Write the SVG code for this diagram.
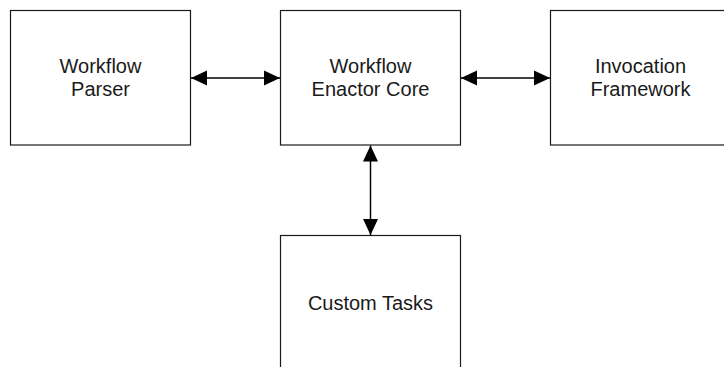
<svg xmlns="http://www.w3.org/2000/svg" width="724" height="367" viewBox="0 0 724 367">
  <style>
    .box { fill: #ffffff; stroke: #1a1a1a; stroke-width: 1.2; }
    .label { font-family: "Liberation Sans", Arial, sans-serif; font-size: 20px; fill: #1a1a1a; text-anchor: middle; }
    .link { stroke: #000000; stroke-width: 1.5; fill: none; marker-start: url(#head); marker-end: url(#head); }
  </style>
  <defs>
    <marker id="head" markerUnits="userSpaceOnUse" markerWidth="16" markerHeight="16" refX="16" refY="8" orient="auto-start-reverse">
      <path d="M0,0.5 L16,8 L0,15.5 Z" fill="#000000"/>
    </marker>
  </defs>
  <rect width="724" height="367" fill="#ffffff"/>

  <g id="workflow-parser">
    <rect class="box" x="10.5" y="10.5" width="180" height="134.5"/>
    <text class="label" x="100.5" y="72.5">Workflow</text>
    <text class="label" x="100.5" y="96">Parser</text>
  </g>

  <g id="enactor-core">
    <rect class="box" x="280.5" y="10.5" width="180" height="134.5"/>
    <text class="label" x="370.5" y="72.5">Workflow</text>
    <text class="label" x="370.5" y="96">Enactor Core</text>
  </g>

  <g id="invocation-framework">
    <rect class="box" x="550.5" y="10.5" width="180" height="134.5"/>
    <text class="label" x="640.5" y="72.5">Invocation</text>
    <text class="label" x="640.5" y="96">Framework</text>
  </g>

  <g id="custom-tasks">
    <rect class="box" x="280.5" y="235.5" width="180" height="140"/>
    <text class="label" x="370.5" y="309.5">Custom Tasks</text>
  </g>

  <g id="connectors">
    <line class="link" x1="191" y1="78" x2="280" y2="78"/>
    <line class="link" x1="461" y1="78" x2="550" y2="78"/>
    <line class="link" x1="370.5" y1="145.5" x2="370.5" y2="235"/>
  </g>
</svg>
